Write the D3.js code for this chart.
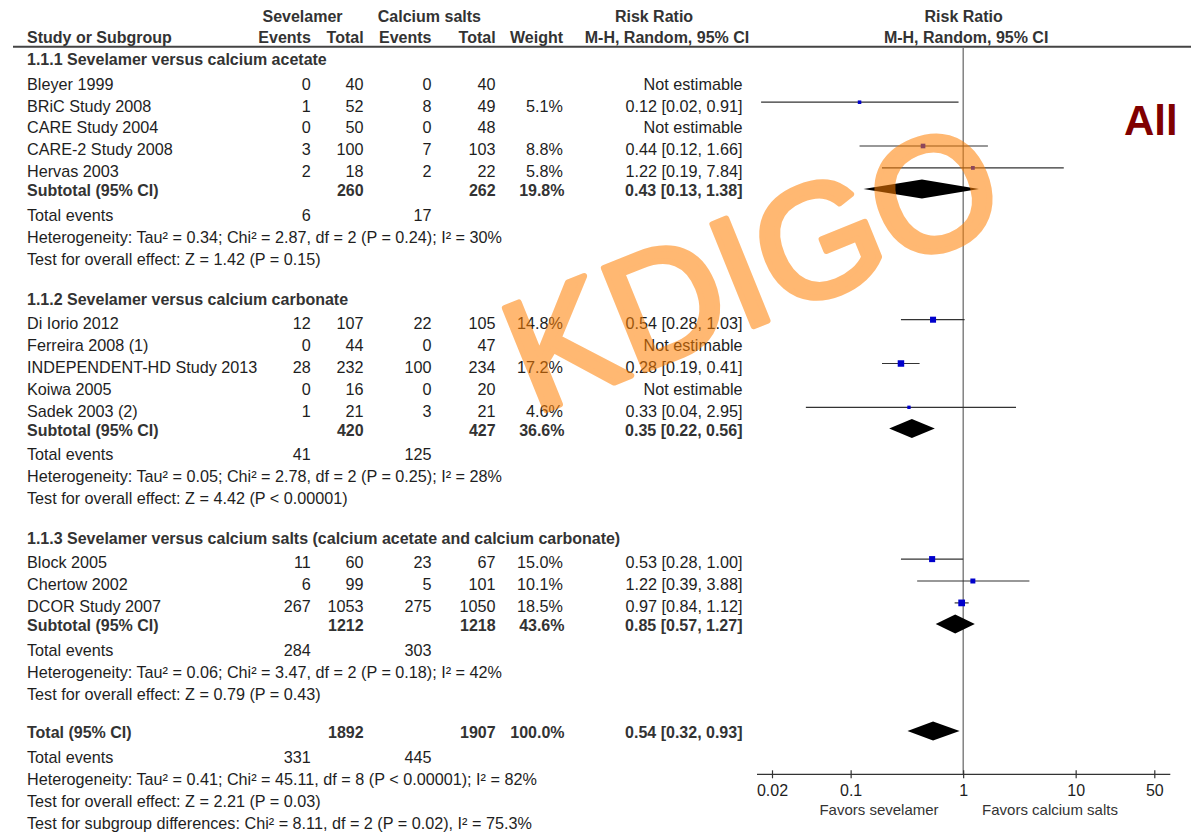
<!DOCTYPE html>
<html>
<head>
<meta charset="utf-8">
<script src="https://cdn.jsdelivr.net/npm/d3@7"></script>
<style>
  body { margin: 0; background: #fff; }
  svg { display: block; font-family: "Liberation Sans", Arial, sans-serif; }
</style>
</head>
<body>
<div class="chart"></div>
<script>
// ---- data ----
const groupTitles = [
  "1.1.1 Sevelamer versus calcium acetate",
  "1.1.2 Sevelamer versus calcium carbonate",
  "1.1.3 Sevelamer versus calcium salts (calcium acetate and calcium carbonate)"
];
const studyNames = [
  "Bleyer 1999", "BRiC Study 2008", "CARE Study 2004", "CARE-2 Study 2008", "Hervas 2003",
  "Di Iorio 2012", "Ferreira 2008 (1)", "INDEPENDENT-HD Study 2013", "Koiwa 2005", "Sadek 2003 (2)",
  "Block 2005", "Chertow 2002", "DCOR Study 2007"
];
const studyGroup = [0, 0, 0, 0, 0, 1, 1, 1, 1, 1, 2, 2, 2];
const sevEvents  = [0, 1, 0, 3, 2, 12, 0, 28, 0, 1, 11, 6, 267];
const sevTotal   = [40, 52, 50, 100, 18, 107, 44, 232, 16, 21, 60, 99, 1053];
const caEvents   = [0, 8, 0, 7, 2, 22, 0, 100, 0, 3, 23, 5, 275];
const caTotal    = [40, 49, 48, 103, 22, 105, 47, 234, 20, 21, 67, 101, 1050];
const weights    = [null, 5.1, null, 8.8, 5.8, 14.8, null, 17.2, null, 4.6, 15.0, 10.1, 18.5];
const riskRatio  = [null, 0.12, null, 0.44, 1.22, 0.54, null, 0.28, null, 0.33, 0.53, 1.22, 0.97];
const ciLow      = [null, 0.016, null, 0.12, 0.19, 0.28, null, 0.19, null, 0.04, 0.28, 0.39, 0.84];
const ciHigh     = [null, 0.91, null, 1.66, 7.84, 1.03, null, 0.41, null, 2.95, 1.00, 3.88, 1.12];

const subSevTotal  = [260, 420, 1212];
const subCaTotal   = [262, 427, 1218];
const subWeight    = [19.8, 36.6, 43.6];
const subRR        = [0.43, 0.35, 0.85];
const subLow       = [0.13, 0.22, 0.57];
const subHigh      = [1.38, 0.56, 1.27];
const subSevEvents = [6, 41, 284];
const subCaEvents  = [17, 125, 303];
const subHetero = [
  "Heterogeneity: Tau² = 0.34; Chi² = 2.87, df = 2 (P = 0.24); I² = 30%",
  "Heterogeneity: Tau² = 0.05; Chi² = 2.78, df = 2 (P = 0.25); I² = 28%",
  "Heterogeneity: Tau² = 0.06; Chi² = 3.47, df = 2 (P = 0.18); I² = 42%"
];
const subEffect = [
  "Test for overall effect: Z = 1.42 (P = 0.15)",
  "Test for overall effect: Z = 4.42 (P < 0.00001)",
  "Test for overall effect: Z = 0.79 (P = 0.43)"
];

const totalSevTotal = 1892;
const totalCaTotal = 1907;
const totalWeight = 100.0;
const totalRR = [0.54, 0.32, 0.93];
const totalEvents = [331, 445];
const totalNotes = [
  "Heterogeneity: Tau² = 0.41; Chi² = 45.11, df = 8 (P < 0.00001); I² = 82%",
  "Test for overall effect: Z = 2.21 (P = 0.03)",
  "Test for subgroup differences: Chi² = 8.11, df = 2 (P = 0.02), I² = 75.3%"
];

const tickValues = [0.02, 0.1, 1, 10, 50];
const tickLabels = ["0.02", "0.1", "1", "10", "50"];
const favorLabels = ["Favors sevelamer", "Favors calcium salts"];

// ---- layout ----
const W = 1191, H = 836;
const col = { study: 27, sevEv: 310.8, sevTot: 363.6, caEv: 431.5, caTot: 495.6, weight: 563, rr: 742.5 };
const base = 5.8;          // text centre -> baseline
const textColor = "#1e1e1e";
const boldColor = "#333";
const axisY = 774.3;

const svg = d3.select(".chart").append("svg")
  .attr("width", W).attr("height", H);

const x = d3.scaleLog().domain([0.02, 50]).range([772, 1154.3]);
const fmt2 = d3.format(".2f");
const fmt1 = d3.format(".1f");
const rrText = (m, l, h) => `${fmt2(m)} [${fmt2(l)}, ${fmt2(h)}]`;
const sqSide = d3.scaleSqrt().domain([0, 20]).range([0, 7]);

// build rows (y = visual centre of text line)
const rows = [];
let y = 59.3;
groupTitles.forEach((g, gi) => {
  rows.push({ kind: "group", y, text: g });
  y += 24.5;
  const idx = studyNames.map((d, i) => i).filter(i => studyGroup[i] === gi);
  idx.forEach((i, k) => {
    rows.push({ kind: "study", y, i });
    if (k < idx.length - 1) y += 21.9;
  });
  y += 19;
  rows.push({ kind: "sub", y, gi });
  y += 24.5;
  rows.push({ kind: "events", y, a: subSevEvents[gi], b: subCaEvents[gi] });
  y += 22.2;
  rows.push({ kind: "note", y, text: subHetero[gi] });
  y += 21.6;
  rows.push({ kind: "note", y, text: subEffect[gi] });
  y += gi < groupTitles.length - 1 ? 40 : 38.6;
});
rows.push({ kind: "total", y });
y += 24.7;
rows.push({ kind: "events", y, a: totalEvents[0], b: totalEvents[1] });
y += 21.7;
totalNotes.forEach((t, k) => {
  rows.push({ kind: "note", y, text: t });
  y += 22.1;
});

// ---- header ----
const hdr = svg.append("g").attr("font-size", 16).attr("font-weight", "bold").attr("fill", boldColor);
const hdrText = (tx, ty, anchor, s) => hdr.append("text").attr("x", tx).attr("y", ty).attr("text-anchor", anchor).text(s);
hdrText(302.5, 16 + base, "middle", "Sevelamer");
hdrText(429.4, 16 + base, "middle", "Calcium salts");
hdrText(654, 16 + base, "middle", "Risk Ratio");
hdrText(x(1) + 0.5, 16 + base, "middle", "Risk Ratio");
hdrText(col.study, 37.3 + base, "start", "Study or Subgroup");
hdrText(col.sevEv, 37.3 + base, "end", "Events");
hdrText(col.sevTot, 37.3 + base, "end", "Total");
hdrText(col.caEv, 37.3 + base, "end", "Events");
hdrText(col.caTot, 37.3 + base, "end", "Total");
hdrText(col.weight, 37.3 + base, "end", "Weight");
hdrText(667, 37.3 + base, "middle", "M-H, Random, 95% CI");
hdrText(x(1) + 3, 37.3 + base, "middle", "M-H, Random, 95% CI");

svg.append("line")
  .attr("x1", 13).attr("x2", W).attr("y1", 46.8).attr("y2", 46.8)
  .attr("stroke", "#444").attr("stroke-width", 2);

// line of no effect
svg.append("line")
  .attr("x1", x(1)).attr("x2", x(1)).attr("y1", 48).attr("y2", axisY)
  .attr("stroke", "#444").attr("stroke-width", 1);

// ---- table text ----
const tbl = svg.append("g");
function cell(ty, tx, anchor, s, bold) {
  tbl.append("text")
    .attr("x", tx).attr("y", ty + base)
    .attr("text-anchor", anchor)
    .attr("font-size", bold ? 16 : 16.2)
    .attr("font-weight", bold ? "bold" : null)
    .attr("fill", bold ? boldColor : textColor)
    .text(s);
}

rows.forEach(r => {
  if (r.kind === "group") {
    cell(r.y, col.study, "start", r.text, true);
  } else if (r.kind === "study") {
    const i = r.i;
    cell(r.y, col.study, "start", studyNames[i]);
    cell(r.y, col.sevEv, "end", sevEvents[i]);
    cell(r.y, col.sevTot, "end", sevTotal[i]);
    cell(r.y, col.caEv, "end", caEvents[i]);
    cell(r.y, col.caTot, "end", caTotal[i]);
    if (weights[i] != null) {
      cell(r.y, col.weight, "end", fmt1(weights[i]) + "%");
      cell(r.y, col.rr, "end", rrText(riskRatio[i], ciLow[i], ciHigh[i]));
    } else {
      cell(r.y, col.rr, "end", "Not estimable");
    }
  } else if (r.kind === "sub") {
    const g = r.gi;
    cell(r.y, col.study, "start", "Subtotal (95% CI)", true);
    cell(r.y, col.sevTot, "end", subSevTotal[g], true);
    cell(r.y, col.caTot, "end", subCaTotal[g], true);
    cell(r.y, col.weight + 1.5, "end", fmt1(subWeight[g]) + "%", true);
    cell(r.y, col.rr, "end", rrText(subRR[g], subLow[g], subHigh[g]), true);
  } else if (r.kind === "total") {
    cell(r.y, col.study, "start", "Total (95% CI)", true);
    cell(r.y, col.sevTot, "end", totalSevTotal, true);
    cell(r.y, col.caTot, "end", totalCaTotal, true);
    cell(r.y, col.weight + 1.5, "end", fmt1(totalWeight) + "%", true);
    cell(r.y, col.rr, "end", rrText(totalRR[0], totalRR[1], totalRR[2]), true);
  } else if (r.kind === "events") {
    cell(r.y, col.study, "start", "Total events");
    cell(r.y, col.sevEv, "end", r.a);
    cell(r.y, col.caEv, "end", r.b);
  } else if (r.kind === "note") {
    cell(r.y, col.study, "start", r.text);
  }
});

// ---- forest plot marks ----
const plot = svg.append("g");
const studyRows = rows.filter(r => r.kind === "study" && riskRatio[r.i] != null);

plot.selectAll(".ci")
  .data(studyRows)
  .enter().append("line")
  .attr("class", "ci")
  .attr("x1", r => x(ciLow[r.i]))
  .attr("x2", r => x(ciHigh[r.i]))
  .attr("y1", r => r.y - 3.5)
  .attr("y2", r => r.y - 3.5)
  .attr("stroke", "#333").attr("stroke-width", 1.2);

plot.selectAll(".sq")
  .data(studyRows)
  .enter().append("rect")
  .attr("class", "sq")
  .attr("x", r => x(riskRatio[r.i]) - sqSide(weights[r.i]) / 2)
  .attr("y", r => r.y - 3.5 - sqSide(weights[r.i]) / 2)
  .attr("width", r => sqSide(weights[r.i]))
  .attr("height", r => sqSide(weights[r.i]))
  .attr("fill", "#0000cc");

const diamonds = rows.filter(r => r.kind === "sub").map(r => ({ y: r.y, m: subRR[r.gi], l: subLow[r.gi], h: subHigh[r.gi] }));
const totRow = rows.find(r => r.kind === "total");
diamonds.push({ y: totRow.y, m: totalRR[0], l: totalRR[1], h: totalRR[2] });

plot.selectAll(".diamond")
  .data(diamonds)
  .enter().append("path")
  .attr("class", "diamond")
  .attr("d", d => {
    const cy = d.y - 1.3, hh = 9.5;
    return `M${x(d.l)},${cy}L${x(d.m)},${cy - hh}L${x(d.h)},${cy}L${x(d.m)},${cy + hh}Z`;
  })
  .attr("fill", "#000");

// ---- axis ----
svg.append("line")
  .attr("x1", x(0.02) - 15).attr("x2", x(50) + 16)
  .attr("y1", axisY).attr("y2", axisY)
  .attr("stroke", "#333").attr("stroke-width", 1.2);

const axis = svg.append("g")
  .attr("transform", `translate(0,${axisY})`)
  .call(d3.axisBottom(x).tickValues(tickValues).tickSize(4)
    .tickFormat((d, i) => tickLabels[i]));
axis.select(".domain").remove();
axis.selectAll(".tick line").attr("y1", -4).attr("y2", 4).attr("stroke", "#333").attr("stroke-width", 1.2);
axis.selectAll(".tick text")
  .attr("y", 0).attr("dy", null)
  .attr("transform", "translate(0,21.5)")
  .attr("font-size", 16)
  .attr("font-family", "Liberation Sans, Arial, sans-serif")
  .attr("fill", textColor);

svg.append("text")
  .attr("x", 879).attr("y", 814.5).attr("text-anchor", "middle")
  .attr("font-size", 15).attr("fill", "#333").text(favorLabels[0]);
svg.append("text")
  .attr("x", 1050).attr("y", 814.5).attr("text-anchor", "middle")
  .attr("font-size", 15).attr("fill", "#333").text(favorLabels[1]);

// ---- labels / watermark ----
svg.append("text")
  .attr("x", 1124).attr("y", 135)
  .attr("font-size", 42).attr("font-weight", "bold")
  .attr("fill", "#800000").text("All");

svg.append("text")
  .attr("transform", "translate(534,415) rotate(-22)")
  .attr("font-size", 160)
  .attr("fill", "#ff7f00")
  .attr("stroke", "#ff7f00").attr("stroke-width", 6).attr("stroke-linejoin", "round")
  .attr("opacity", 0.55)
  .text("KDIGO");
</script>
</body>
</html>
